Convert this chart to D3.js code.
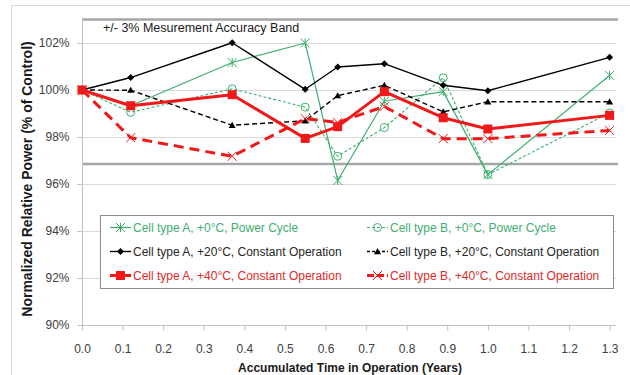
<!DOCTYPE html>
<html>
<head>
<meta charset="utf-8">
<script src="https://cdn.jsdelivr.net/npm/d3@7"></script>
<style>
  html, body { margin: 0; padding: 0; background: #fff; }
  svg { display: block; font-family: "Liberation Sans", Arial, sans-serif; }
</style>
</head>
<body>
<svg id="chart" width="630" height="375"></svg>
<script>
// Accumulated time in operation (years) at each measurement
const timeYears = [0, 0.12, 0.37, 0.55, 0.63, 0.745, 0.89, 1.0, 1.3];

// Normalized relative power (% of control) per cell group
const cellA0  = [100, 99.33, 101.17, 102.0, 96.15, 99.52, 99.93, 96.4, 100.62];
const cellB0  = [100, 99.05, 100.05, 99.27, 97.18, 98.4, 100.52, 96.4, 99.02];
const cellA20 = [100, 100.53, 102.01, 100.03, 100.98, 101.12, 100.2, 99.97, 101.39];
const cellB20 = [100, 99.99, 98.5, 98.69, 99.76, 100.2, 99.07, 99.5, 99.5];
const cellA40 = [100, 99.33, 99.8, 97.94, 98.44, 99.93, 98.82, 98.34, 98.92];
const cellB40 = [100, 97.97, 97.18, 98.78, 98.62, 99.3, 97.93, 97.93, 98.28];

const seriesNames = [
  "Cell type A, +0°C, Power Cycle",
  "Cell type B, +0°C, Power Cycle",
  "Cell type A, +20°C, Constant Operation",
  "Cell type B, +20°C, Constant Operation",
  "Cell type A, +40°C, Constant Operation",
  "Cell type B, +40°C, Constant Operation"
];

// Measurement accuracy band limits (%)
const bandLimits = [103, 96.85];
const bandLabel = "+/- 3% Mesurement Accuracy Band";

const yTicks = [90, 92, 94, 96, 98, 100, 102];
const xTicks = [0, 0.1, 0.2, 0.3, 0.4, 0.5, 0.6, 0.7, 0.8, 0.9, 1.0, 1.1, 1.2, 1.3];

const xTitle = "Accumulated Time in Operation (Years)";
const yTitle = "Normalized Relative Power  (% of Control)";

const GREEN = "#3fae6f", RED = "#f01818", BLACK = "#000";

const styles = [
  { values: cellA0,  color: GREEN, width: 1.2, dash: null,   marker: "asterisk", size: 9,  text: GREEN },
  { values: cellB0,  color: GREEN, width: 1.1, dash: "3,2",  marker: "circle",   size: 9,  text: GREEN },
  { values: cellA20, color: BLACK, width: 1.4, dash: null,   marker: "diamond",  size: 7,  text: "#262626" },
  { values: cellB20, color: BLACK, width: 1.4, dash: "5,3",  marker: "triangle", size: 7,  text: "#262626" },
  { values: cellA40, color: RED,   width: 3,   dash: null,   marker: "square",   size: 9,  text: "#e02a2a" },
  { values: cellB40, color: RED,   width: 3,   dash: "10,6", marker: "cross",    size: 9,  text: "#e02a2a" }
];

const svg = d3.select("#chart");

// outer chart frame
svg.append("path")
  .attr("d", "M11.5,380 V5.5 H640")
  .attr("fill", "none").attr("stroke", "#d9d9d9").attr("stroke-width", 1);

const x = d3.scaleLinear().domain([0, 1.317]).range([82, 616.5]);
const y = d3.scaleLinear().domain([90, 103]).range([325, 19.5]);

// horizontal gridlines
svg.append("g").selectAll("line").data(yTicks.filter(d => d !== 90)).join("line")
  .attr("x1", x(0)).attr("x2", x.range()[1])
  .attr("y1", d => Math.round(y(d)) + 0.5).attr("y2", d => Math.round(y(d)) + 0.5)
  .attr("stroke", "#d9d9d9").attr("stroke-width", 1);

// accuracy band limits
svg.append("g").selectAll("line").data(bandLimits).join("line")
  .attr("x1", x(0)).attr("x2", x.range()[1] + 1.5)
  .attr("y1", d => y(d)).attr("y2", d => y(d))
  .attr("stroke", "#a6a6a6").attr("stroke-width", 2.5);

svg.append("text")
  .attr("x", 103).attr("y", 31.8)
  .attr("font-size", 12.5).attr("fill", "#1a1a1a")
  .text(bandLabel);

// axes
const yAxis = svg.append("g")
  .attr("transform", "translate(82.5,0)")
  .call(d3.axisLeft(y).tickValues(yTicks).tickFormat(d => d + "%").tickSize(5).tickPadding(8));
const xAxis = svg.append("g")
  .attr("transform", `translate(0,${Math.round(y(90)) + 0.5})`)
  .call(d3.axisBottom(x).tickValues(xTicks).tickFormat(d3.format(".1f")).tickSize(5).tickPadding(14));

[yAxis, xAxis].forEach(g => {
  g.select(".domain").attr("stroke", "#bfbfbf");
  g.selectAll(".tick line").attr("stroke", "#bfbfbf");
  g.selectAll(".tick text").attr("font-size", 12).attr("fill", "#404040")
    .attr("font-family", "'Liberation Sans', Arial, sans-serif");
});
yAxis.select(".domain").attr("d", `M0,${y(103)}V${Math.round(y(90))}`);
xAxis.select(".domain").attr("d", `M${x(0)},0H${x.range()[1]}`);

// axis titles
svg.append("text")
  .attr("x", 350).attr("y", 371.5).attr("text-anchor", "middle")
  .attr("font-size", 12).attr("font-weight", "bold").attr("fill", "#1a1a1a")
  .text(xTitle);
svg.append("text")
  .attr("transform", "translate(32,179) rotate(-90)")
  .attr("text-anchor", "middle")
  .attr("font-size", 14).attr("font-weight", "bold").attr("fill", "#1a1a1a")
  .text(yTitle);

// marker drawing
function drawMarker(g, s, cx, cy) {
  const r = s.size / 2;
  switch (s.marker) {
    case "asterisk":
      g.append("path")
        .attr("d", `M${cx - r},${cy - r}L${cx + r},${cy + r}M${cx - r},${cy + r}L${cx + r},${cy - r}M${cx},${cy - r}L${cx},${cy + r}`)
        .attr("stroke", s.color).attr("stroke-width", 1).attr("fill", "none");
      break;
    case "cross":
      g.append("path")
        .attr("d", `M${cx - r},${cy - r}L${cx + r},${cy + r}M${cx - r},${cy + r}L${cx + r},${cy - r}`)
        .attr("stroke", s.color).attr("stroke-width", 1).attr("fill", "none");
      break;
    case "circle":
      g.append("circle").attr("cx", cx).attr("cy", cy).attr("r", r - 0.5)
        .attr("fill", "none").attr("stroke", s.color).attr("stroke-width", 1);
      break;
    case "diamond":
      g.append("path").attr("d", `M${cx},${cy - r}L${cx + r},${cy}L${cx},${cy + r}L${cx - r},${cy}Z`)
        .attr("fill", s.color);
      break;
    case "triangle":
      g.append("path").attr("d", `M${cx},${cy - r}L${cx + r},${cy + r * 0.75}L${cx - r},${cy + r * 0.75}Z`)
        .attr("fill", s.color);
      break;
    case "square":
      g.append("rect").attr("x", cx - r).attr("y", cy - r).attr("width", s.size).attr("height", s.size)
        .attr("fill", s.color);
      break;
  }
}

// series lines and markers
const line = d3.line().x((d, i) => x(timeYears[i])).y(d => y(d));
styles.forEach(s => {
  const g = svg.append("g");
  g.append("path").datum(s.values)
    .attr("d", line)
    .attr("fill", "none").attr("stroke", s.color).attr("stroke-width", s.width)
    .attr("stroke-dasharray", s.dash).attr("stroke-linejoin", "round");
  s.values.forEach((v, i) => drawMarker(g, s, x(timeYears[i]), y(v)));
});

// legend
const legend = svg.append("g");
legend.append("rect")
  .attr("x", 100.5).attr("y", 215.5).attr("width", 513).attr("height", 73)
  .attr("fill", "#fff").attr("stroke", "#8c8c8c").attr("stroke-width", 1);
const colStart = [110, 367];
styles.forEach((s, i) => {
  const col = i % 2, row = Math.floor(i / 2);
  const cy = 227.5 + row * 24;
  const x0 = colStart[col], x1 = x0 + 21;
  const g = legend.append("g");
  g.append("line").attr("x1", x0).attr("x2", x1).attr("y1", cy).attr("y2", cy)
    .attr("stroke", s.color).attr("stroke-width", s.width)
    .attr("stroke-dasharray", s.dash ? (s.width > 2 ? "7,3" : "3,2") : null);
  drawMarker(g, s, (x0 + x1) / 2, cy);
  g.append("text").attr("x", x1 + 2).attr("y", cy + 4.3)
    .attr("font-size", 12).attr("fill", s.text)
    .text(seriesNames[i]);
});
</script>
</body>
</html>
